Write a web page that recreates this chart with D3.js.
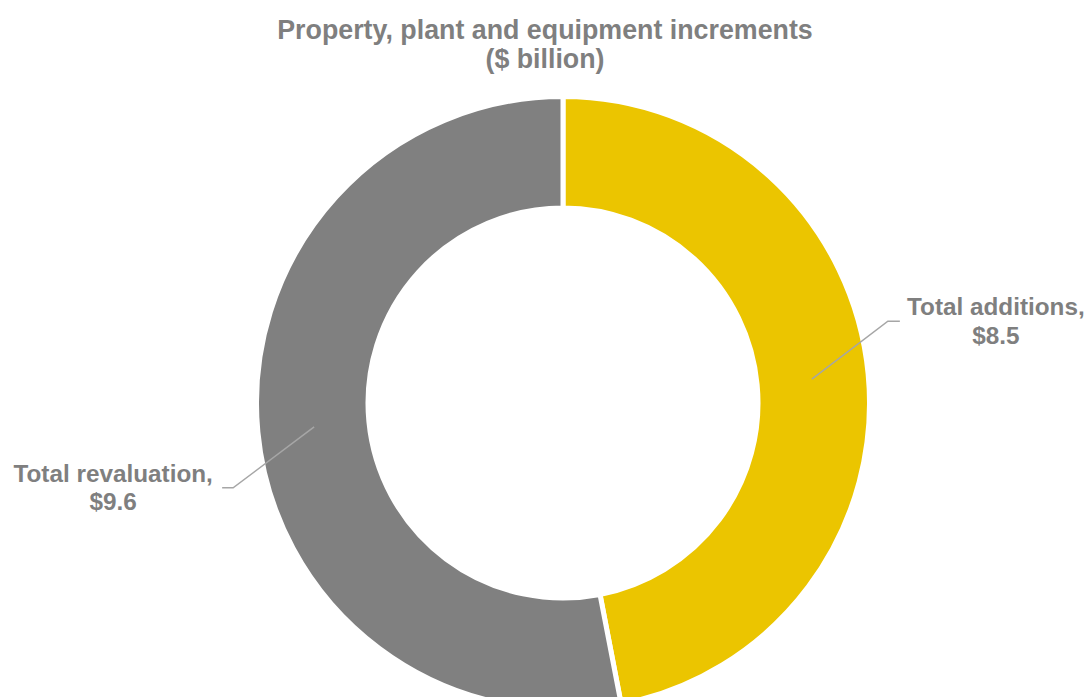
<!DOCTYPE html>
<html>
<head>
<meta charset="utf-8">
<script src="https://cdn.jsdelivr.net/npm/d3@7/dist/d3.min.js"></script>
<style>
  html, body { margin: 0; padding: 0; background: #ffffff; }
  svg { display: block; }
  text { font-family: "Liberation Sans", Arial, sans-serif; font-weight: bold; fill: #7f7f7f; }
</style>
</head>
<body>
<svg id="chart" width="1088" height="697"></svg>
<script>
// PP&E increments, $ billion
const categories = ["Total additions", "Total revaluation"];
const values = [8.5, 9.6];
const valueLabels = ["$8.5", "$9.6"];
const colors = ["#ebc500", "#808080"];
const titleLines = ["Property, plant and equipment increments", "($ billion)"];

const cx = 563, cy = 403;
const outerR = 306.5, innerR = 195;

const svg = d3.select("#chart");

// title
svg.append("text")
  .attr("text-anchor", "middle")
  .style("font-size", "26.8px")
  .selectAll("tspan")
  .data(titleLines)
  .join("tspan")
  .attr("x", 545)
  .attr("y", (d, i) => 39 + i * 28.5)
  .text(d => d);

const data = categories.map((c, i) => ({ name: c, value: values[i], label: valueLabels[i], color: colors[i] }));

const pie = d3.pie().sort(null).value(d => d.value);
const arc = d3.arc().innerRadius(innerR).outerRadius(outerR);
const midArc = d3.arc().innerRadius(250).outerRadius(250);

const g = svg.append("g").attr("transform", `translate(${cx},${cy})`);
const arcs = pie(data);

g.selectAll("path.slice")
  .data(arcs)
  .join("path")
  .attr("class", "slice")
  .attr("d", arc)
  .attr("fill", d => d.data.color)
  .attr("stroke", "#ffffff")
  .attr("stroke-width", 5)
  .attr("stroke-linejoin", "miter");

// leader lines and data labels (offsets relative to the slice's mid-ring point)
const labelLayout = [
  { elbow: [76, -58], tail: 12, text: [108, -6] },
  { elbow: [-81, 61], tail: -11, text: [-120, -6] }
];
const lineGap = 28.5;

arcs.forEach((a, i) => {
  const [sx, sy] = midArc.centroid(a);
  const L = labelLayout[i];
  const ex = sx + L.elbow[0], ey = sy + L.elbow[1];
  g.append("polyline")
    .attr("points", [[sx, sy], [ex, ey], [ex + L.tail, ey]].map(p => p.join(",")).join(" "))
    .attr("fill", "none")
    .attr("stroke", "#a6a6a6")
    .attr("stroke-width", 1.5);

  const t = g.append("text")
    .attr("text-anchor", "middle")
    .style("font-size", "24.3px");
  t.append("tspan").attr("x", ex + L.text[0]).attr("y", ey + L.text[1]).text(a.data.name + ",");
  t.append("tspan").attr("x", ex + L.text[0]).attr("y", ey + L.text[1] + lineGap).text(a.data.label);
});
</script>
</body>
</html>
